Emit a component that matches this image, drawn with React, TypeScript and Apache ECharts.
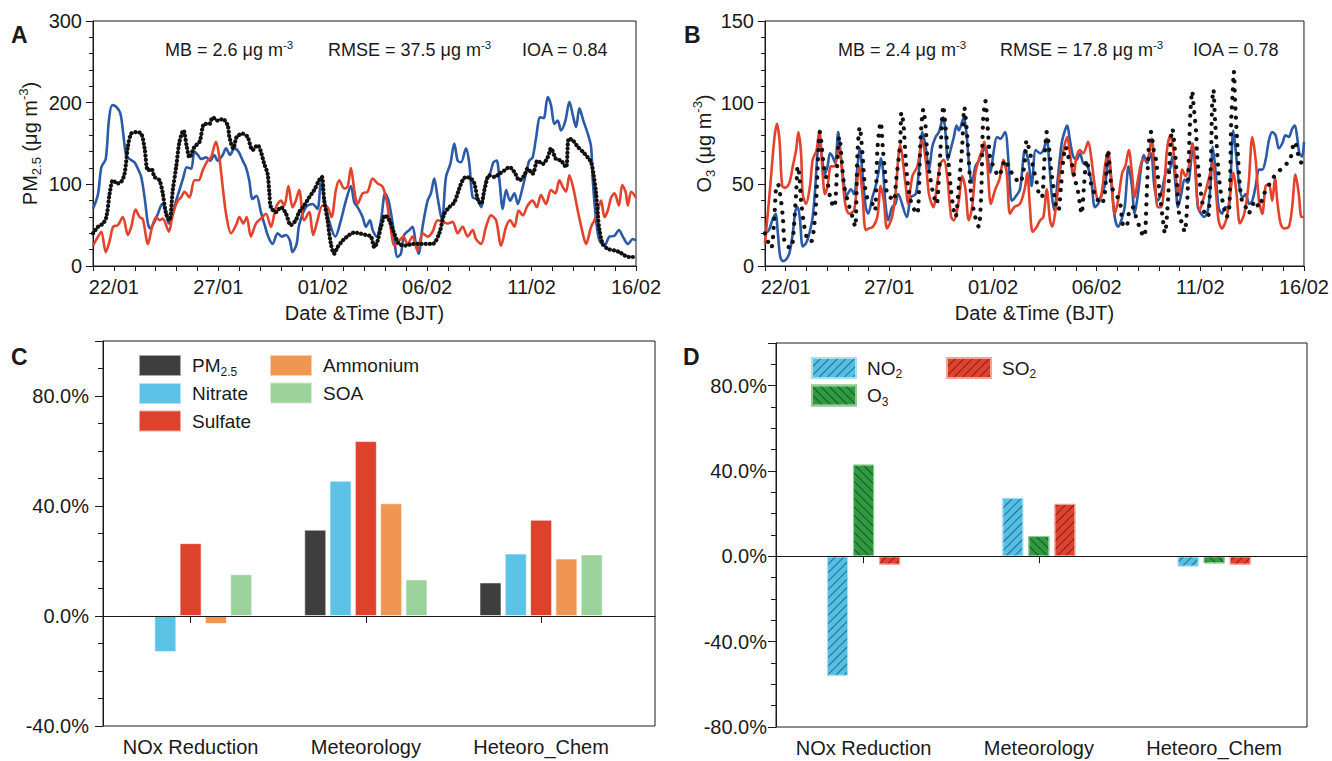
import React, { useEffect, useRef } from 'react';
import * as echarts from 'echarts';

const FONT = '"Liberation Sans", Arial, Helvetica, sans-serif';
const INK = '#1a1a1a';

// ---- Panels A/B: x = days since 21/01 00:00 (BJT)
const dateTickDays = [1, 6, 11, 16, 21, 26];
const dateTickLabels = ['22/01', '27/01', '01/02', '06/02', '11/02', '16/02'];

// Panel A — PM2.5 (μg m-3)
const obsPM25 = [[0,40],[0.24,48],[0.48,52],[0.64,60],[0.80,89],[0.96,105],[1.15,101],[1.35,103],[1.51,113],[1.67,146],[1.83,162],[2.07,164],[2.31,162],[2.47,144],[2.63,117],[2.79,119],[2.95,109],[3.18,105],[3.34,89],[3.50,64],[3.66,56],[3.82,93],[3.98,121],[4.14,152],[4.33,166],[4.49,146],[4.62,133],[4.86,146],[5.10,152],[5.33,174],[5.57,174],[5.73,182],[5.97,178],[6.21,180],[6.45,172],[6.53,158],[6.72,144],[6.88,158],[7.17,162],[7.40,158],[7.64,142],[7.88,148],[8.04,140],[8.20,125],[8.36,113],[8.44,91],[8.52,72],[8.76,66],[9.00,72],[9.24,64],[9.47,50],[9.71,56],[9.87,66],[10.11,74],[10.35,84],[10.59,93],[10.83,105],[10.96,109],[11.07,80],[11.23,56],[11.39,27],[11.55,15],[11.71,23],[11.95,31],[12.27,38],[12.51,41],[12.75,40],[13.07,38],[13.31,36],[13.47,23],[13.63,31],[13.79,48],[13.99,62],[14.19,56],[14.42,40],[14.66,27],[14.98,25],[15.30,27],[15.62,27],[15.94,27],[16.26,27],[16.58,40],[16.82,64],[17.06,72],[17.30,78],[17.54,95],[17.70,105],[17.86,109],[18.10,107],[18.26,101],[18.42,82],[18.58,76],[18.74,93],[18.98,111],[19.23,109],[19.46,113],[19.70,117],[19.94,121],[20.18,115],[20.42,105],[20.65,111],[20.81,119],[21.05,113],[21.29,129],[21.53,125],[21.77,133],[21.93,144],[22.17,131],[22.41,129],[22.65,121],[22.78,156],[22.97,154],[23.21,146],[23.45,140],[23.69,133],[23.85,127],[23.96,113],[24.09,89],[24.17,64],[24.25,44],[24.41,27],[24.65,21],[24.97,19],[25.21,17],[25.45,13],[25.69,11],[26,11]];
const bluePM25 = [[0,70],[0.24,88],[0.40,121],[0.61,131],[0.76,178],[0.92,197],[1.11,195],[1.31,187],[1.43,166],[1.59,135],[1.75,131],[1.99,127],[2.15,119],[2.31,109],[2.47,84],[2.63,52],[2.74,46],[2.90,52],[3.11,64],[3.31,76],[3.47,68],[3.63,52],[3.79,60],[3.98,80],[4.14,93],[4.33,109],[4.49,121],[4.70,119],[4.86,140],[5.02,136],[5.18,131],[5.41,133],[5.61,129],[5.81,136],[5.97,129],[6.21,136],[6.37,144],[6.56,136],[6.77,144],[6.97,140],[7.17,129],[7.32,121],[7.48,105],[7.64,82],[7.83,86],[8.04,66],[8.20,52],[8.39,36],[8.60,27],[8.84,40],[9.04,36],[9.24,38],[9.43,31],[9.55,17],[9.75,27],[9.87,50],[10.19,72],[10.51,76],[10.75,70],[10.91,101],[11.15,72],[11.39,48],[11.60,36],[11.87,56],[12.11,80],[12.35,98],[12.51,78],[12.67,72],[12.91,60],[13.07,48],[13.26,56],[13.39,44],[13.58,36],[13.79,56],[13.99,89],[14.15,80],[14.35,52],[14.58,11],[14.74,15],[14.90,38],[15.14,44],[15.30,48],[15.46,27],[15.59,15],[15.78,48],[16.02,80],[16.18,89],[16.34,107],[16.50,84],[16.71,56],[16.90,109],[17.11,125],[17.30,150],[17.46,129],[17.62,127],[17.86,144],[18.02,125],[18.18,84],[18.42,82],[18.58,72],[18.82,105],[19.01,113],[19.17,127],[19.33,129],[19.46,105],[19.62,70],[19.78,93],[19.97,80],[20.18,89],[20.34,76],[20.54,93],[20.73,113],[20.89,129],[21.05,133],[21.21,156],[21.41,182],[21.58,181],[21.77,207],[21.93,197],[22.09,174],[22.25,178],[22.41,166],[22.62,178],[22.81,201],[23.00,182],[23.13,170],[23.29,193],[23.48,178],[23.69,162],[23.85,146],[23.93,105],[24.09,56],[24.25,31],[24.49,25],[24.73,36],[24.97,37],[25.18,44],[25.37,36],[25.61,27],[25.85,33],[26,31]];
const redPM25 = [[0,25],[0.24,36],[0.40,42],[0.61,17],[0.80,31],[0.96,48],[1.19,50],[1.43,60],[1.67,38],[1.83,48],[2.04,69],[2.23,60],[2.39,57],[2.63,27],[2.83,48],[3.03,60],[3.18,56],[3.34,58],[3.63,42],[3.82,64],[4.06,80],[4.22,84],[4.38,91],[4.62,84],[4.86,105],[5.06,105],[5.25,117],[5.49,129],[5.65,133],[5.89,152],[6.05,133],[6.21,97],[6.37,64],[6.61,40],[6.85,50],[7.01,60],[7.20,52],[7.36,60],[7.56,36],[7.80,52],[8.04,58],[8.28,64],[8.52,48],[8.76,72],[9.00,80],[9.16,74],[9.36,98],[9.55,72],[9.71,80],[9.87,93],[10.11,56],[10.35,66],[10.54,38],[10.75,56],[10.99,74],[11.23,72],[11.42,60],[11.63,93],[11.79,105],[12.03,95],[12.19,97],[12.35,120],[12.51,93],[12.67,76],[12.91,89],[13.15,91],[13.39,107],[13.63,101],[13.87,97],[14.06,80],[14.27,44],[14.42,25],[14.66,31],[14.86,36],[15.06,27],[15.30,36],[15.54,19],[15.78,40],[16.02,36],[16.26,42],[16.50,56],[16.74,54],[16.98,52],[17.22,54],[17.46,40],[17.70,48],[17.94,36],[18.18,44],[18.34,33],[18.58,27],[18.82,48],[19.06,62],[19.30,56],[19.54,25],[19.78,48],[19.97,56],[20.18,48],[20.38,68],[20.58,62],[20.81,74],[21.05,80],[21.25,72],[21.45,87],[21.69,76],[21.93,93],[22.14,89],[22.33,105],[22.49,97],[22.65,91],[22.81,111],[23.00,95],[23.21,68],[23.45,40],[23.61,27],[23.85,48],[24.01,56],[24.17,68],[24.33,80],[24.49,60],[24.65,68],[24.81,84],[24.97,89],[25.18,74],[25.34,99],[25.50,91],[25.61,74],[25.77,91],[26,84]];

// Panel B — O3 (μg m-3)
const obsO3 = [[0,20],[0.14,15],[0.30,11],[0.46,32],[0.54,49],[0.62,50],[0.73,44],[0.86,30],[0.94,15],[1.10,12],[1.26,11],[1.34,15],[1.50,44],[1.58,61],[1.66,55],[1.74,40],[1.90,24],[2.06,16],[2.22,15],[2.33,20],[2.46,38],[2.65,82],[2.86,59],[3.02,51],[3.18,40],[3.34,36],[3.58,79],[3.82,49],[4.03,38],[4.22,30],[4.35,24],[4.46,69],[4.57,85],[4.70,69],[4.82,49],[4.98,40],[5.18,38],[5.30,34],[5.43,73],[5.58,88],[5.69,71],[5.78,59],[5.89,44],[6.05,42],[6.21,40],[6.33,53],[6.52,75],[6.58,94],[6.68,87],[6.79,65],[6.90,49],[7.03,40],[7.22,34],[7.35,32],[7.51,79],[7.64,96],[7.75,85],[7.83,67],[7.96,55],[8.12,44],[8.28,38],[8.39,55],[8.50,79],[8.60,98],[8.71,85],[8.82,69],[8.95,49],[9.08,36],[9.19,30],[9.35,49],[9.51,73],[9.62,97],[9.72,85],[9.83,65],[9.94,44],[10.07,34],[10.23,26],[10.31,24],[10.43,44],[10.52,89],[10.63,101],[10.74,85],[10.87,65],[11.03,61],[11.27,55],[11.42,59],[11.58,65],[11.74,61],[11.90,57],[12.06,55],[12.22,51],[12.38,53],[12.54,65],[12.62,77],[12.75,71],[12.86,65],[13.00,57],[13.11,51],[13.22,44],[13.35,42],[13.48,65],[13.59,82],[13.70,73],[13.80,59],[13.91,49],[14.02,38],[14.15,34],[14.28,49],[14.39,65],[14.50,73],[14.63,67],[14.79,63],[14.95,53],[15.08,47],[15.19,38],[15.27,32],[15.40,51],[15.51,65],[15.59,61],[15.75,49],[15.91,44],[16.07,40],[16.23,38],[16.39,44],[16.55,71],[16.71,49],[16.90,44],[17.11,40],[17.27,25],[17.43,24],[17.58,34],[17.74,36],[17.90,30],[18.06,24],[18.18,20],[18.30,18],[18.43,49],[18.54,79],[18.62,82],[18.75,71],[18.86,65],[19.02,47],[19.18,30],[19.29,20],[19.44,40],[19.52,65],[19.65,84],[19.76,73],[19.84,59],[19.92,40],[20.00,30],[20.13,26],[20.24,21],[20.35,34],[20.45,69],[20.53,96],[20.61,107],[20.67,99],[20.72,93],[20.80,81],[20.85,67],[20.93,57],[21.04,44],[21.20,32],[21.31,30],[21.41,32],[21.52,69],[21.57,99],[21.63,108],[21.71,89],[21.79,74],[21.88,57],[22.00,44],[22.11,38],[22.27,30],[22.40,36],[22.49,89],[22.56,106],[22.62,119],[22.68,100],[22.80,71],[22.91,49],[23.04,38],[23.19,36],[23.32,32],[23.48,36],[23.64,40],[23.83,36],[23.96,40],[24.07,44],[24.28,49],[24.47,53],[24.63,56],[24.87,59],[25.03,61],[25.19,63],[25.35,66],[25.48,74],[25.56,76],[25.67,71],[25.78,65],[25.91,63],[26,65]];
const blueO3 = [[0,20],[0.19,22],[0.35,28],[0.51,32],[0.62,20],[0.73,6],[0.86,3],[1.02,4],[1.18,8],[1.34,20],[1.47,34],[1.58,36],[1.69,28],[1.82,12],[1.98,14],[2.14,20],[2.30,30],[2.43,49],[2.54,71],[2.62,77],[2.75,67],[2.86,56],[3.02,61],[3.13,69],[3.26,67],[3.39,63],[3.53,82],[3.66,67],[3.82,49],[3.93,43],[4.14,47],[4.30,44],[4.46,61],[4.57,72],[4.70,57],[4.86,36],[4.98,32],[5.18,42],[5.34,49],[5.50,59],[5.59,66],[5.69,59],[5.81,38],[5.94,28],[6.13,36],[6.29,38],[6.42,44],[6.84,30],[7.03,42],[7.27,44],[7.43,59],[7.59,82],[7.75,73],[7.91,59],[8.07,73],[8.23,79],[8.39,82],[8.60,91],[8.71,81],[8.82,65],[8.95,71],[9.11,79],[9.24,86],[9.35,83],[9.59,91],[9.72,81],[9.88,57],[9.99,51],[10.15,61],[10.35,65],[10.47,69],[10.63,73],[10.87,57],[11.03,70],[11.19,79],[11.35,78],[11.58,82],[11.74,65],[11.90,40],[12.06,42],[12.30,47],[12.54,71],[12.70,65],[12.86,49],[13.06,71],[13.27,69],[13.43,71],[13.59,78],[13.70,65],[13.83,44],[13.96,34],[14.12,53],[14.31,75],[14.47,83],[14.58,86],[14.71,77],[14.87,67],[15.03,65],[15.19,69],[15.35,63],[15.56,61],[15.75,51],[15.91,36],[16.07,38],[16.26,44],[16.42,51],[16.58,67],[16.71,51],[16.87,30],[17.03,24],[17.19,28],[17.35,36],[17.54,61],[17.70,49],[17.83,32],[17.99,44],[18.15,61],[18.27,68],[18.43,63],[18.62,69],[18.78,49],[18.94,40],[19.10,44],[19.26,53],[19.39,59],[19.52,59],[19.65,67],[19.81,49],[19.92,36],[20.08,44],[20.24,53],[20.40,51],[20.56,65],[20.64,75],[20.77,59],[20.88,36],[21.04,32],[21.20,30],[21.36,34],[21.49,49],[21.60,73],[21.73,59],[21.88,36],[22.04,32],[22.20,36],[22.36,36],[22.48,59],[22.59,83],[22.72,69],[22.88,49],[23.04,42],[23.19,44],[23.35,38],[23.51,40],[23.67,49],[23.83,59],[23.99,59],[24.15,65],[24.31,77],[24.47,82],[24.63,80],[24.79,72],[24.95,75],[25.11,80],[25.27,79],[25.43,84],[25.56,86],[25.67,79],[25.78,69],[25.91,67],[26,76]];
const redO3 = [[0,14],[0.22,44],[0.46,79],[0.58,87],[0.70,77],[0.83,49],[0.99,48],[1.18,51],[1.34,61],[1.50,71],[1.61,82],[1.74,69],[1.82,44],[1.98,38],[2.17,49],[2.30,65],[2.49,71],[2.62,83],[2.78,57],[2.89,44],[3.02,49],[3.18,61],[3.34,61],[3.58,73],[3.71,59],[3.87,38],[4.06,32],[4.30,34],[4.54,61],[4.70,44],[4.86,22],[5.02,23],[5.21,24],[5.42,30],[5.58,49],[5.73,40],[5.89,23],[6.13,30],[6.29,44],[6.52,74],[6.79,49],[6.90,38],[7.11,55],[7.35,61],[7.59,77],[7.75,65],[7.91,44],[8.12,36],[8.31,51],[8.47,63],[8.63,65],[8.79,55],[8.98,30],[9.11,28],[9.35,40],[9.51,55],[9.67,47],[9.83,28],[9.99,36],[10.15,57],[10.31,65],[10.47,71],[10.58,76],[10.71,65],[10.90,38],[11.11,47],[11.31,53],[11.50,65],[11.66,57],[11.82,32],[12.02,36],[12.30,38],[12.54,48],[12.65,57],[12.78,36],[12.91,21],[13.11,24],[13.27,28],[13.43,30],[13.59,47],[13.75,28],[13.86,24],[13.99,32],[14.15,49],[14.31,65],[14.47,75],[14.58,79],[14.71,69],[14.87,55],[15.03,67],[15.19,71],[15.35,69],[15.59,76],[15.75,65],[15.91,49],[16.07,40],[16.23,44],[16.42,63],[16.55,70],[16.71,53],[16.87,32],[17.03,40],[17.23,57],[17.38,61],[17.55,71],[17.70,57],[17.83,42],[18.02,55],[18.22,65],[18.38,65],[18.50,67],[18.65,78],[18.78,61],[18.94,36],[19.10,36],[19.26,49],[19.39,71],[19.55,80],[19.68,73],[19.81,55],[19.97,44],[20.13,59],[20.29,55],[20.45,61],[20.61,75],[20.72,67],[20.83,44],[20.96,34],[21.12,40],[21.28,47],[21.44,55],[21.60,63],[21.73,49],[21.88,28],[22.04,23],[22.24,28],[22.40,40],[22.60,57],[22.75,44],[22.91,26],[23.12,32],[23.32,49],[23.51,79],[23.67,65],[23.83,40],[23.99,32],[24.15,49],[24.31,50],[24.47,40],[24.60,54],[24.71,40],[24.87,26],[25.03,23],[25.27,24],[25.43,36],[25.59,56],[25.75,44],[25.88,30],[26,30]];

// ---- Panels C/D
const categories = ['NOx Reduction', 'Meteorology', 'Heteoro_Chem'];
const categoryPos = [1, 2, 3];
// C (% change)
const pm25Change = [0.4, 31.4, 12.2];
const nitrateChange = [-13.1, 49.2, 22.7];
const sulfateChange = [26.5, 63.6, 35.0];
const ammoniumChange = [-2.9, 41.0, 20.9];
const soaChange = [15.2, 13.3, 22.4];
// D (% change)
const no2Change = [-56.0, 27.4, -4.8];
const o3Change = [43.0, 9.5, -3.3];
const so2Change = [-3.9, 24.6, -3.9];

const legendRich: Record<string, string> = {
  'PM2.5': '{a|PM}{s|2.5}', Nitrate: '{a|Nitrate}', Sulfate: '{a|Sulfate}',
  Ammonium: '{a|Ammonium}', SOA: '{a|SOA}',
  NO2: '{a|NO}{s|2}', O3: '{a|O}{s|3}', SO2: '{a|SO}{s|2}',
};

const toPairs = (vals: number[]) => categoryPos.map((x, i) => [x, vals[i]]);

export default function App() {
  const ref = useRef<HTMLDivElement>(null);
  useEffect(() => {
    if (!ref.current) return;
    const chart = echarts.init(ref.current, undefined, { renderer: 'svg' });

    const axisLine = { show: true, lineStyle: { color: INK, width: 1 } };
    const tickStyle = { color: INK, width: 1 };
    const labelBase = { color: INK, fontFamily: FONT, fontSize: 20 };
    const nameRich = {
      a: { fontSize: 20, lineHeight: 26, fontFamily: FONT, color: INK },
      s: { fontSize: 13, lineHeight: 13, verticalAlign: 'bottom', fontFamily: FONT, color: INK },
      p: { fontSize: 13, lineHeight: 13, verticalAlign: 'top', fontFamily: FONT, color: INK },
    };
    const statRich = {
      a: { fontSize: 18, lineHeight: 22, fontFamily: FONT, color: INK },
      p: { fontSize: 11.5, lineHeight: 11, verticalAlign: 'top', fontFamily: FONT, color: INK },
    };
    const legendTextStyle = {
      fontFamily: FONT, color: INK, padding: [0, 0, 0, 6],
      rich: {
        a: { fontSize: 19, lineHeight: 24, fontFamily: FONT, color: INK },
        s: { fontSize: 12, lineHeight: 12, verticalAlign: 'bottom', fontFamily: FONT, color: INK },
      },
    };
    const dateFmt = (v: number) => {
      const i = dateTickDays.indexOf(Math.round(v));
      return i >= 0 && Math.abs(v - Math.round(v)) < 1e-6 ? dateTickLabels[i] : '';
    };
    const timeX = (gridIndex: number) => ({
      gridIndex, type: 'value', min: 0, max: 26, interval: 1,
      axisLine, axisTick: { show: true, length: 5, lineStyle: tickStyle },
      axisLabel: { ...labelBase, margin: 11, formatter: dateFmt },
      splitLine: { show: false },
      name: 'Date &Time (BJT)', nameLocation: 'middle', nameGap: 37,
      nameTextStyle: { ...labelBase },
    });
    const catX = (gridIndex: number, max: number) => ({
      gridIndex, type: 'value', min: 0.5, max,
      axisLine,
      axisTick: { show: true, length: 7, lineStyle: tickStyle, customValues: categoryPos },
      axisLabel: {
        ...labelBase, margin: 11, customValues: categoryPos,
        formatter: (v: number) => (Math.abs(v - Math.round(v)) < 1e-6 ? categories[Math.round(v) - 1] ?? '' : ''),
      },
      splitLine: { show: false },
    });
    const pctFmt = (v: number) => (v >= 99 ? '' : v.toFixed(1) + '%');
    const pctY = (gridIndex: number, min: number, margin: number) => [
      {
        gridIndex, type: 'value', position: 'left', min, max: 100, interval: 40,
        axisLine, axisTick: { show: true, length: 8, lineStyle: tickStyle },
        axisLabel: { ...labelBase, margin, formatter: pctFmt },
        splitLine: { show: false },
      },
      {
        gridIndex, type: 'value', position: 'left', offset: 0, min, max: 100, interval: 10,
        axisLine: { show: false }, axisTick: { show: true, length: 5, lineStyle: tickStyle },
        axisLabel: { show: false }, splitLine: { show: false },
      },
    ];

    const lineSeries = (name: string, data: number[][], color: string, xi: number) => ({
      name, type: 'line', xAxisIndex: xi, yAxisIndex: xi, data, showSymbol: false, smooth: 0.3,
      lineStyle: { color, width: 2.6 }, itemStyle: { color }, z: 2,
    });
    const obsSeries = (name: string, data: number[][], xi: number, gap: number) => ({
      name, type: 'line', xAxisIndex: xi, yAxisIndex: xi, data, showSymbol: false, smooth: 0.3,
      lineStyle: { color: '#111', width: 4.2, type: [0.1, gap], cap: 'round' }, itemStyle: { color: '#111' }, z: 3,
    });
    const barC = (name: string, vals: number[], color: string, extra: any = {}) => ({
      name, type: 'bar', xAxisIndex: 2, yAxisIndex: 2, data: toPairs(vals),
      barWidth: 22, barGap: '15%',
      itemStyle: { color, borderColor: 'rgba(255,255,255,0.55)', borderWidth: 1 },
      ...extra,
    });
    const hatch = (rotation: number) => ({
      symbol: 'rect', symbolSize: 1, dashArrayX: [1, 0], dashArrayY: [1, 4.2],
      rotation, color: 'rgba(0,0,0,0.45)',
    });
    const barD = (name: string, vals: number[], color: string, border: string, rotation: number, extra: any = {}) => ({
      name, type: 'bar', xAxisIndex: 3, yAxisIndex: 4, data: toPairs(vals),
      barWidth: 21, barGap: '24%',
      itemStyle: { color, borderColor: border, borderWidth: 1, decal: hatch(rotation) },
      ...extra,
    });
    const zeroLine = {
      markLine: {
        silent: true, symbol: ['none', 'none'], label: { show: false },
        lineStyle: { color: INK, width: 1, type: 'solid' },
        data: [{ yAxis: 0 }],
      },
    };
    const legendBase = {
      orient: 'vertical', padding: 0, icon: 'rect', selectedMode: false,
      itemGap: 4.5, textStyle: legendTextStyle,
      formatter: (n: string) => legendRich[n] ?? n,
    };
    const text = (x: number, y: number, t: string, extra: any = {}) => ({
      type: 'text', x, y,
      style: { text: t, fontFamily: FONT, fill: INK, verticalAlign: 'middle', align: 'left', ...extra },
    });

    const option: any = {
      animation: false,
      backgroundColor: '#fff',
      grid: [
        { left: 93, top: 21, width: 543, height: 245, show: true, borderColor: INK, borderWidth: 1 },
        { left: 765, top: 21, width: 542, height: 245, show: true, borderColor: INK, borderWidth: 1 },
        { left: 103, top: 341, width: 552, height: 385, show: true, borderColor: INK, borderWidth: 1 },
        { left: 776, top: 343, width: 531, height: 384, show: true, borderColor: INK, borderWidth: 1 },
      ],
      xAxis: [timeX(0), timeX(1), catX(2, 3.65), catX(3, 3.53)],
      yAxis: [
        {
          gridIndex: 0, type: 'value', min: 0, max: 300, interval: 100,
          axisLine, axisTick: { show: true, length: 7, lineStyle: tickStyle },
          minorTick: { show: true, splitNumber: 5, length: 4, lineStyle: tickStyle },
          axisLabel: { ...labelBase, margin: 11 }, splitLine: { show: false },
          name: '{a|PM}{s|2.5}{a| (μg m}{p|-3}{a|)}', nameLocation: 'middle', nameRotate: 90, nameGap: 50,
          nameTextStyle: { rich: nameRich },
        },
        {
          gridIndex: 1, type: 'value', min: 0, max: 150, interval: 50,
          axisLine, axisTick: { show: true, length: 7, lineStyle: tickStyle },
          minorTick: { show: true, splitNumber: 5, length: 4, lineStyle: tickStyle },
          axisLabel: { ...labelBase, margin: 11 }, splitLine: { show: false },
          name: '{a|O}{s|3}{a| (μg m}{p|-3}{a|)}', nameLocation: 'middle', nameRotate: 90, nameGap: 48,
          nameTextStyle: { rich: nameRich },
        },
        ...pctY(2, -40, 14),
        ...pctY(3, -80, 9),
      ],
      legend: [
        { ...legendBase, data: ['PM2.5', 'Nitrate', 'Sulfate'], left: 138, top: 354, itemWidth: 42, itemHeight: 21 },
        { ...legendBase, data: ['Ammonium', 'SOA'], left: 269, top: 354, itemWidth: 42, itemHeight: 21 },
        { ...legendBase, data: ['NO2', 'O3'], left: 811, top: 357, itemWidth: 44, itemHeight: 20 },
        { ...legendBase, data: ['SO2'], left: 946, top: 357, itemWidth: 44, itemHeight: 20 },
      ],
      series: [
        lineSeries('Simulation (blue) PM2.5', bluePM25, '#2b5aa7', 0),
        lineSeries('Simulation (red) PM2.5', redPM25, '#e3432c', 0),
        obsSeries('Observation PM2.5', obsPM25, 0, 4),
        lineSeries('Simulation (blue) O3', blueO3, '#2b5aa7', 1),
        lineSeries('Simulation (red) O3', redO3, '#e3432c', 1),
        obsSeries('Observation O3', obsO3, 1, 9),
        barC('PM2.5', pm25Change, '#3d3e3d', zeroLine),
        barC('Nitrate', nitrateChange, '#5cc3e6'),
        barC('Sulfate', sulfateChange, '#de422c'),
        barC('Ammonium', ammoniumChange, '#ef9652'),
        barC('SOA', soaChange, '#9bd29b'),
        barD('NO2', no2Change, '#52bfe6', '#a6def2', -Math.PI / 4, zeroLine),
        barD('O3', o3Change, '#2f9a3f', '#8ccc92', Math.PI / 4),
        barD('SO2', so2Change, '#e1412f', '#f3a397', -Math.PI / 4),
      ],
      graphic: [
        text(11, 35, 'A', { fontSize: 23, fontWeight: 'bold' }),
        text(684, 35, 'B', { fontSize: 23, fontWeight: 'bold' }),
        text(11, 357, 'C', { fontSize: 23, fontWeight: 'bold' }),
        text(683, 357, 'D', { fontSize: 23, fontWeight: 'bold' }),
        text(165, 50, '{a|MB = 2.6 μg m}{p|-3}', { rich: statRich }),
        text(328, 50, '{a|RMSE = 37.5 μg m}{p|-3}', { rich: statRich }),
        text(522, 50, '{a|IOA = 0.84}', { rich: statRich }),
        text(838, 50, '{a|MB = 2.4 μg m}{p|-3}', { rich: statRich }),
        text(1000, 50, '{a|RMSE = 17.8 μg m}{p|-3}', { rich: statRich }),
        text(1193, 50, '{a|IOA = 0.78}', { rich: statRich }),
      ],
    };
    chart.setOption(option);
    return () => chart.dispose();
  }, []);
  return (
    <div
      ref={ref}
      style={{ position: 'fixed', left: 0, top: 0, width: 1332, height: 761, background: '#fff' }}
    />
  );
}
